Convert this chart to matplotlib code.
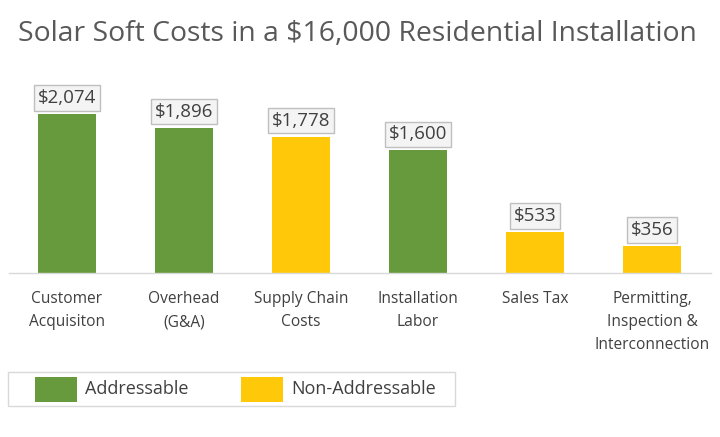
import matplotlib
matplotlib.use('Agg')
import matplotlib.pyplot as plt
from matplotlib.patches import Rectangle

GREEN  = "#679a3d"
YELLOW = "#ffc90a"
TEXT   = "#404040"
TITLE  = "#595959"
EDGE   = "#d9d9d9"

plt.rcParams['font.family'] = ['Open Sans', 'DejaVu Sans']

categories = ["Customer\nAcquisiton", "Overhead\n(G&A)", "Supply Chain\nCosts",
              "Installation\nLabor", "Sales Tax",
              "Permitting,\nInspection &\nInterconnection"]
costs = [2074, 1896, 1778, 1600, 533, 356]
addressable = [True, True, False, True, False, False]
legend_labels = ["Addressable", "Non-Addressable"]

colors = [GREEN if a else YELLOW for a in addressable]

fig = plt.figure(figsize=(7.2, 4.37), dpi=100)
fig.patch.set_facecolor("white")
ax = fig.add_axes([8.5 / 720, (437 - 273) / 437, 702 / 720, 214.7 / 437])

x = range(len(categories))
ax.bar(x, costs, width=0.5, color=colors)
ax.set_xlim(-0.5, len(categories) - 0.5)
ax.set_ylim(0, 2800)

for i, v in enumerate(costs):
    ax.annotate(f"${v:,}", (i, v), xytext=(0, 5), textcoords='offset points',
                ha='center', va='bottom', fontsize=13.5, color=TEXT,
                bbox=dict(boxstyle='square,pad=0.2', fc='#f4f4f4', ec='#bfbfbf', lw=1))

ax.set_xticks(list(x))
ax.set_xticklabels(categories, fontsize=11.2, color=TEXT, linespacing=1.6, va='top')
ax.tick_params(axis='x', length=0, pad=13)
ax.set_yticks([])
for s in ['top', 'left', 'right']:
    ax.spines[s].set_visible(False)
ax.spines['bottom'].set_color(EDGE)
ax.spines['bottom'].set_linewidth(1)

fig.text(0.497, 1 - 34 / 437, "Solar Soft Costs in a $16,000 Residential Installation",
         ha='center', va='center', fontsize=20.4, color=TITLE)

# legend drawn by hand (pixel layout of the reference)
W, H = 720, 437
fig.patches.append(Rectangle((8 / W, 1 - 406 / H), 447 / W, 34 / H,
                             transform=fig.transFigure, fc='white', ec=EDGE, lw=1))
for lx, col, lab in zip([35, 241], [GREEN, YELLOW], legend_labels):
    fig.patches.append(Rectangle((lx / W, 1 - 402 / H), 42 / W, 25 / H,
                                 transform=fig.transFigure, fc=col, ec='none'))
    fig.text((lx + 50) / W, 1 - 389.5 / H, lab, ha='left', va='center',
             fontsize=13, color=TEXT)

fig.savefig("out.png", dpi=100, facecolor="white")
